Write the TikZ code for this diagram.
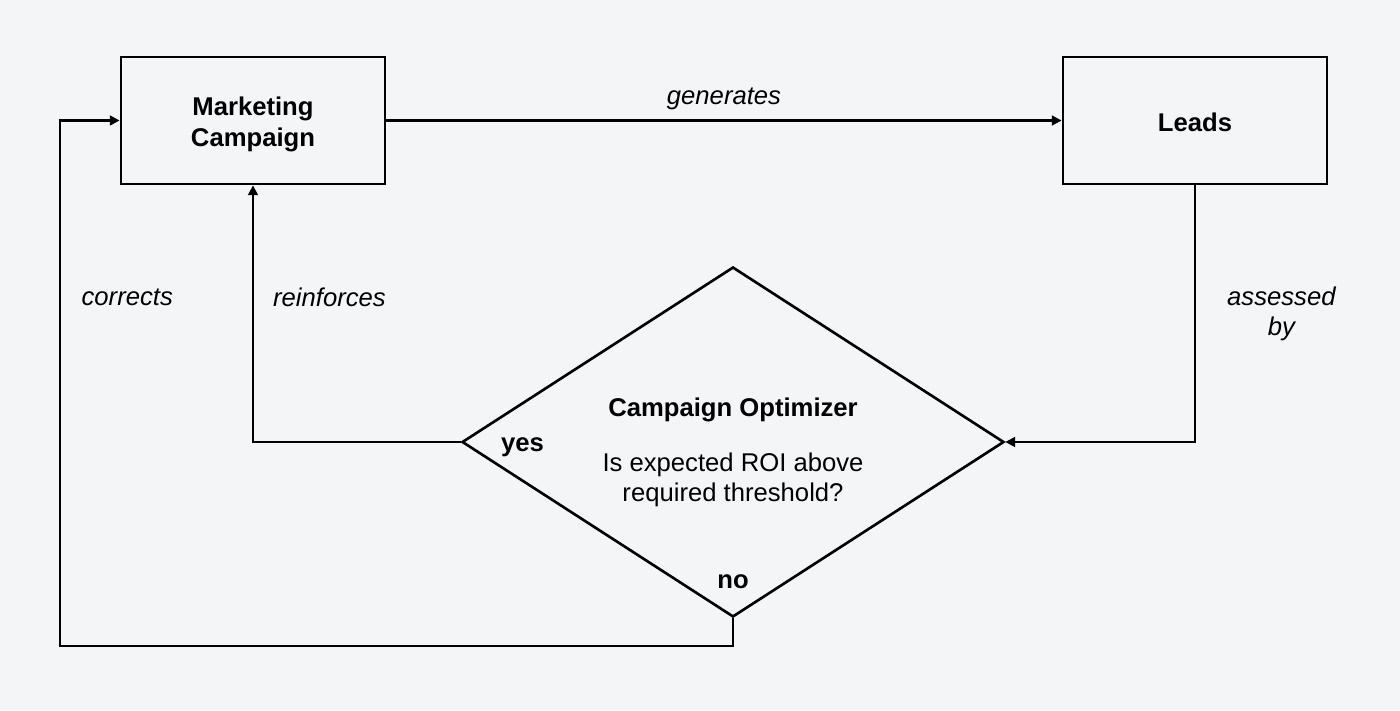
\documentclass[tikz,border=0pt]{standalone}
\usepackage{fontspec}
\setmainfont{Liberation Sans}
\usetikzlibrary{arrows.meta,positioning,shapes.geometric}
\definecolor{bgpaper}{HTML}{F4F5F7}
\tikzset{
  box/.style={draw, line width=1.6pt, minimum width=5.28cm, minimum height=2.54cm, align=center, font=\fontsize{14.6}{17.6}\selectfont\bfseries},
  decision/.style={draw, diamond, line width=1.5pt, minimum width=10.84cm, minimum height=7cm, inner sep=0pt},
  flow/.style={line width=1.3pt, -{Triangle[length=5.6pt,width=5.6pt]}},
  lbl/.style={font=\fontsize{14.6}{17.1}\selectfont\itshape, inner sep=0pt, align=center},
  lblb/.style={font=\fontsize{14.6}{17.1}\selectfont\bfseries, inner sep=0pt}
}

\begin{document}
\begin{tikzpicture}
  %%%%% START %%%%%
  \fill[bgpaper] (0,0) rectangle (28,14.2);
  \useasboundingbox (0,0) rectangle (28,14.2);

  \node[box] (mc) at (5.06,11.79) {\rule{0pt}{15pt}Marketing\\Campaign};
  \node[box] (leads) at (23.9,11.79) {\rule{0pt}{13pt}Leads};
  \node[decision] (opt) at (14.66,5.36) {};
  \node[align=center, inner sep=0pt, font=\fontsize{14.6}{17.1}\selectfont] (optq) at (14.66,5.146)
    {\textbf{Campaign Optimizer}\\[14.2pt]Is expected ROI above\\required threshold?};
  \coordinate (cbot) at (1.2,1.28);

  \node[lblb, anchor=base west] (yes) at ([xshift=0.8cm,yshift=-0.2cm]opt.west) {yes};
  \node[lblb, anchor=base] (no) at ([yshift=0.6cm]opt.south) {no};

  \draw[flow] (mc) -- node[lbl, above=5.5pt] (gen) {generates} (leads);
  \draw[flow] (leads.south) |- node[lbl, pos=0.25, anchor=west, xshift=0.62cm] (assess) {assessed\\by} (opt.east);
  \draw[flow] (opt.west) -| node[lbl, pos=0.764, anchor=base west, xshift=0.38cm] (reinf) {reinforces} (mc.south);
  \draw[flow] (opt.south) |- (cbot) |- node[lbl, pos=0.324, anchor=base west, xshift=0.41cm] (corr) {corrects} (mc.west);
  %%%%% END %%%%%
\end{tikzpicture}
\end{document}
